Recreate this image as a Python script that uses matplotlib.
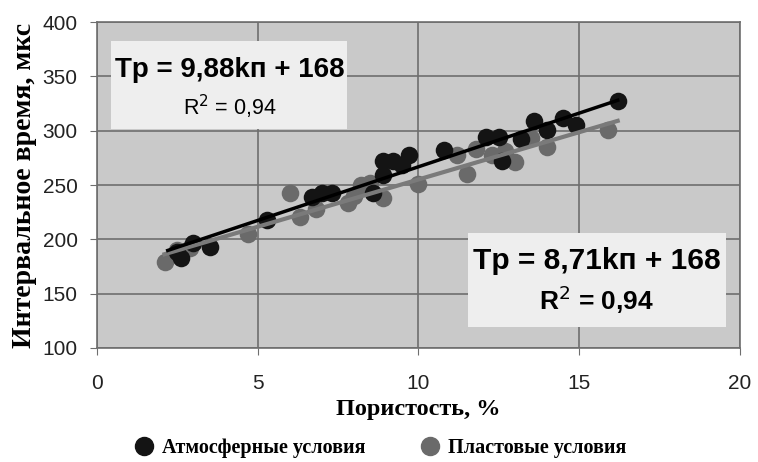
import numpy as np
import matplotlib
matplotlib.use('Agg')
import matplotlib.pyplot as plt
from matplotlib.lines import Line2D

# Атмосферные условия (black)
atm_x = [2.5, 2.6, 3.0, 3.5, 5.3, 6.7, 7.0, 7.3, 8.6, 8.9, 8.9, 9.2, 9.5, 9.7,
         10.8, 12.1, 12.5, 12.6, 13.2, 13.6, 14.0, 14.5, 14.9, 16.2]
atm_y = [188, 183, 197, 193, 218, 239, 243, 243, 243, 259, 272, 272, 268, 278,
         282, 294, 294, 272, 292, 309, 301, 312, 305, 327]

# Пластовые условия (gray)
pl_x = [2.1, 2.5, 2.9, 4.7, 6.0, 6.3, 6.8, 7.8, 8.0, 8.2, 8.5, 8.9, 10.0,
        11.2, 11.5, 11.8, 12.3, 12.7, 13.0, 13.5, 14.0, 15.9]
pl_y = [179, 190, 192, 205, 243, 221, 228, 233, 240, 250, 252, 238, 251,
        278, 260, 283, 278, 281, 271, 293, 285, 301]

# trend lines (slope, intercept, x range)
atm_fit = (9.88, 168)
pl_fit = (8.71, 168)
atm_range = [2.2, 16.2]
pl_range = [2.1, 16.2]

x_ticks = [0, 5, 10, 15, 20]
y_ticks = [100, 150, 200, 250, 300, 350, 400]

grid_c = '#6e6e6e'
black_c = '#141414'
gray_c = '#6a6a6a'

fig = plt.figure(figsize=(7.58, 4.62), dpi=100)
ax = fig.add_axes([0.128, 0.247, 0.848, 0.705])
ax.set_facecolor('#c9c9c9')

ax.set_xlim(0, 20)
ax.set_ylim(100, 400)
ax.set_xticks(x_ticks)
ax.set_yticks(y_ticks)
ax.grid(True, color=grid_c, linewidth=1.2)
ax.set_axisbelow(True)
for s in ax.spines.values():
    s.set_color(grid_c)
    s.set_linewidth(1.2)
ax.tick_params(axis='both', colors=grid_c, labelcolor='#222222', labelsize=15, length=5)
ax.tick_params(axis='x', pad=14)
ax.tick_params(axis='y', pad=9)
for lab in ax.get_xticklabels() + ax.get_yticklabels():
    lab.set_family('Liberation Sans')

ax.scatter(pl_x, pl_y, s=160, color=gray_c, zorder=3, linewidths=0)
ax.scatter(atm_x, atm_y, s=160, color=black_c, zorder=4, linewidths=0)

xs = np.array(pl_range)
ax.plot(xs, pl_fit[0] * xs + pl_fit[1], color='#7a7a7a', linewidth=3, zorder=5)
xs = np.array(atm_range)
ax.plot(xs, atm_fit[0] * xs + atm_fit[1], color='black', linewidth=2.5, zorder=6)

# equation boxes
ax.add_patch(plt.Rectangle((0.44, 302), 7.35, 81, facecolor='#eeeeee', edgecolor='none', zorder=2))
ax.text(4.12, 356, 'Tp = 9,88kп + 168', ha='center', va='center', fontsize=20,
        fontweight='bold', family='Liberation Sans', zorder=7)
ax.text(4.12, 322, 'R$^2$ = 0,94', ha='center', va='center', fontsize=15.5,
        family='Liberation Sans', zorder=7)

ax.add_patch(plt.Rectangle((11.53, 119), 8.03, 87, facecolor='#eeeeee', edgecolor='none', zorder=7))
ax.text(15.55, 180, 'Tp = 8,71kп + 168', ha='center', va='center', fontsize=21.5,
        fontweight='bold', family='Liberation Sans', zorder=8)
ax.text(15.55, 144, 'R$^2$ = 0,94', ha='center', va='center', fontsize=19,
        fontweight='bold', family='Liberation Sans', zorder=8)

ax.set_xlabel('Пористость, %', fontsize=17.5, fontweight='bold', family='Liberation Serif', labelpad=4)
ax.set_ylabel('Интервальное время, мкс', fontsize=20, fontweight='bold', family='Liberation Serif', labelpad=4)

handles = [Line2D([], [], marker='o', linestyle='none', markersize=13, color=black_c),
           Line2D([], [], marker='o', linestyle='none', markersize=13, color=gray_c)]
fig.legend(handles, ['Атмосферные условия', 'Пластовые условия'], loc='center',
           bbox_to_anchor=(0.495, 0.03), ncol=2, frameon=False, handletextpad=-0.1,
           columnspacing=2.2, borderpad=0.2,
           prop={'family': 'Liberation Serif', 'weight': 'bold', 'size': 14.5})

fig.savefig('out.png', dpi=100)
